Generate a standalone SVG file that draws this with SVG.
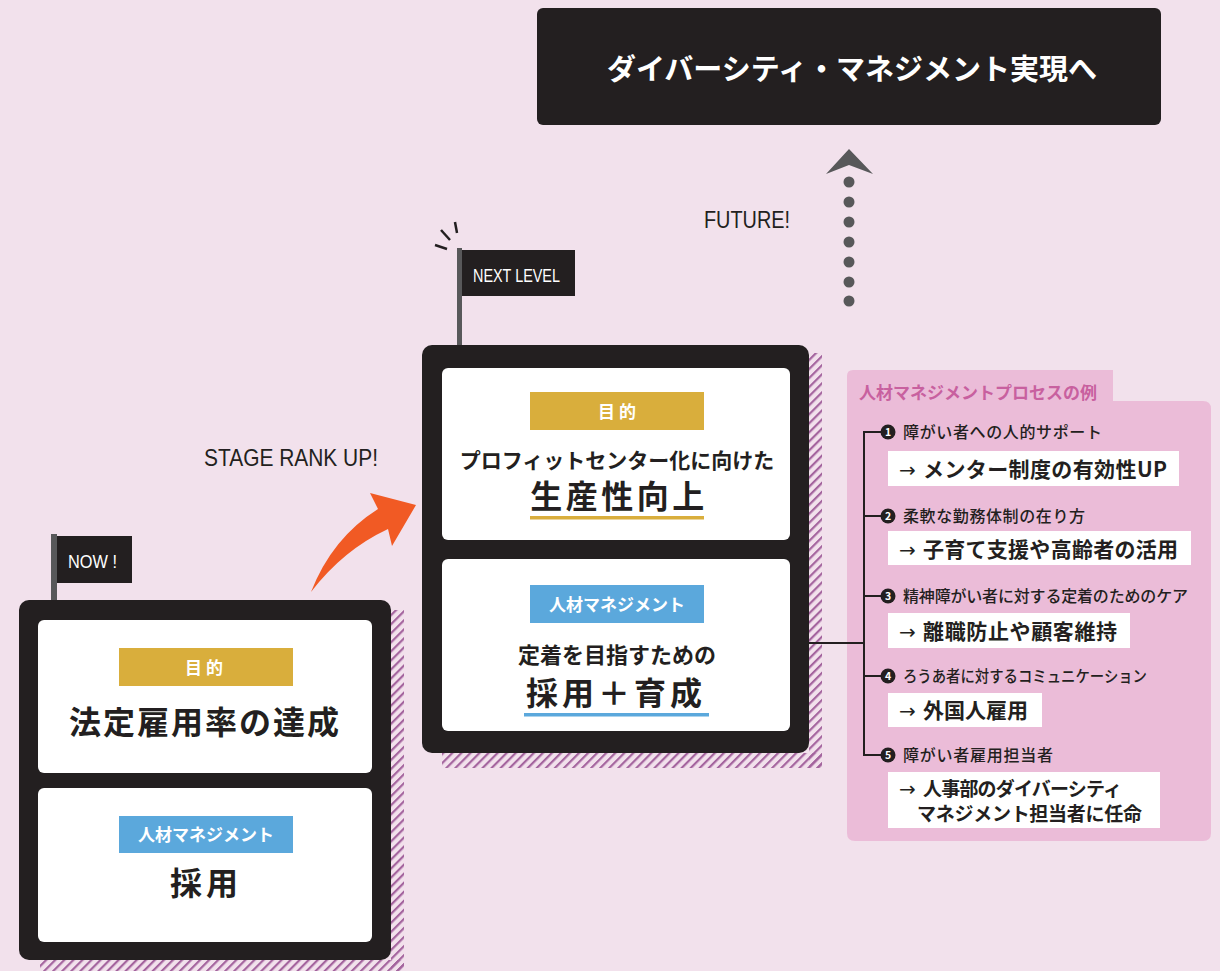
<svg xmlns="http://www.w3.org/2000/svg" width="1220" height="971" viewBox="0 0 1220 971">
<defs>
<pattern id="hatch" patternUnits="userSpaceOnUse" width="6.4" height="6.4" patternTransform="rotate(45)">
<rect x="0" y="0" width="2.2" height="6.4" fill="#A4649E"/>
</pattern>
<style>
.jp{font-family:"Noto Sans CJK JP","Noto Sans CJK SC",sans-serif;}
.lat{font-family:"Liberation Sans","DejaVu Sans",sans-serif;}
.b{font-weight:700;}
.m{font-weight:500;}
.dark{fill:#231F20;}
.w{fill:#FFFFFF;}
.frame{fill:#231F20;}
.card{fill:#FFFFFF;}
.gold{fill:#D9AE3C;}
.blue{fill:#5BA8DC;}
.pole{fill:#58585A;}
.conn{stroke:#231F20;stroke-width:2;fill:none;}
.item{fill:#231F20;font-size:16px;}
.res{fill:#231F20;font-size:21px;font-weight:700;}
.arr{fill:#231F20;font-size:20px;font-family:"DejaVu Sans","Liberation Sans",sans-serif;}
.num{fill:#FFFFFF;font-size:10.5px;font-weight:700;}
</style>
</defs>
<rect x="0" y="0" width="1220" height="971" fill="#F2E1EC"/>

<g id="goal">
<rect x="537" y="8" width="624" height="117" rx="6" class="frame"/>
<text x="852" y="80" text-anchor="middle" class="jp b w" font-size="29">ダイバーシティ・マネジメント実現へ</text>
</g>

<g id="future-arrow">
<polygon points="849,149 873,174 849,165 826,174" fill="#58585A"/>
<g fill="#58585A">
<circle cx="849" cy="182" r="5.5"/>
<circle cx="849" cy="202" r="5.5"/>
<circle cx="849" cy="222" r="5.5"/>
<circle cx="849" cy="242" r="5.5"/>
<circle cx="849" cy="262" r="5.5"/>
<circle cx="849" cy="282" r="5.5"/>
<circle cx="849" cy="301" r="5.5"/>
</g>
<text x="704" y="228" class="lat dark" font-size="24" textLength="86" lengthAdjust="spacingAndGlyphs">FUTURE!</text>
</g>

<g id="stage-arrow">
<path d="M311,592 Q332,538 378,509 L370,493 L416,505 L392,546 L388,529 Q343,550 311,592 Z" fill="#F15A24"/>
<text x="204" y="466" class="lat dark" font-size="24" textLength="174" lengthAdjust="spacingAndGlyphs">STAGE RANK UP!</text>
</g>

<g id="now-stage">
<rect x="391" y="610" width="13" height="361" fill="url(#hatch)"/>
<rect x="40" y="960" width="364" height="11" fill="url(#hatch)"/>
<rect x="51" y="534" width="6" height="70" class="pole"/>
<rect x="57" y="536" width="75" height="47" class="frame"/>
<text x="68" y="568" class="lat w" font-size="18" textLength="49" lengthAdjust="spacingAndGlyphs">NOW !</text>
<rect x="19" y="600" width="372" height="360" rx="10" class="frame"/>
<rect x="38" y="620" width="334" height="153" rx="6" class="card"/>
<rect x="119" y="648" width="174" height="38" class="gold"/>
<text x="206" y="674" text-anchor="middle" class="jp b w" font-size="17" letter-spacing="4">目的</text>
<text x="205" y="734" text-anchor="middle" class="jp b dark" font-size="32" letter-spacing="2">法定雇用率の達成</text>
<rect x="38" y="788" width="334" height="154" rx="6" class="card"/>
<rect x="119" y="816" width="174" height="37" class="blue"/>
<text x="206" y="841" text-anchor="middle" class="jp b w" font-size="17">人材マネジメント</text>
<text x="206" y="895" text-anchor="middle" class="jp b dark" font-size="32" letter-spacing="4">採用</text>
</g>

<g id="next-stage">
<rect x="809" y="353" width="13" height="415" fill="url(#hatch)"/>
<rect x="442" y="753" width="380" height="15" fill="url(#hatch)"/>
<g stroke="#231F20" stroke-width="2.5" stroke-linecap="butt">
<line x1="435" y1="245" x2="447" y2="249"/>
<line x1="441" y1="230" x2="450" y2="240"/>
<line x1="455" y1="222" x2="457" y2="233"/>
</g>
<rect x="457" y="248" width="5" height="102" class="pole"/>
<rect x="462" y="250" width="113" height="46" class="frame"/>
<text x="473" y="282" class="lat w" font-size="18" textLength="87" lengthAdjust="spacingAndGlyphs">NEXT LEVEL</text>
<rect x="422" y="345" width="387" height="408" rx="10" class="frame"/>
<rect x="442" y="368" width="348" height="172" rx="6" class="card"/>
<rect x="530" y="392" width="174" height="38" class="gold"/>
<text x="619" y="418" text-anchor="middle" class="jp b w" font-size="17" letter-spacing="4">目的</text>
<text x="617" y="468" text-anchor="middle" class="jp b dark" font-size="21">プロフィットセンター化に向けた</text>
<text x="619" y="508" text-anchor="middle" class="jp b dark" font-size="32" letter-spacing="3.5">生産性向上</text>
<rect x="530" y="516" width="174" height="3.5" class="gold"/>
<rect x="442" y="559" width="348" height="172" rx="6" class="card"/>
<rect x="530" y="585" width="174" height="38" class="blue"/>
<text x="617" y="611" text-anchor="middle" class="jp b w" font-size="17">人材マネジメント</text>
<text x="617" y="663" text-anchor="middle" class="jp b dark" font-size="22">定着を目指すための</text>
<text x="616" y="705" text-anchor="middle" class="jp b dark" font-size="32" letter-spacing="4">採用＋育成</text>
<rect x="524" y="713" width="185" height="3.5" class="blue"/>
</g>

<g id="process-panel">
<path d="M847,376 Q847,370 853,370 L1113,370 L1113,401 L1203,401 Q1211,401 1211,409 L1211,833 Q1211,841 1203,841 L855,841 Q847,841 847,833 Z" fill="#EBBCD8"/>
<text x="859" y="399" class="jp b" font-size="17" fill="#C8609F">人材マネジメントプロセスの例</text>
</g>

<g id="connectors">
<line x1="809" y1="643" x2="864" y2="643" class="conn"/>
<path d="M882,432 L864,432 L864,755 L882,755" class="conn"/>
<line x1="864" y1="516" x2="882" y2="516" class="conn"/>
<line x1="864" y1="596" x2="882" y2="596" class="conn"/>
<line x1="864" y1="676" x2="882" y2="676" class="conn"/>
</g>

<g id="item1">
<circle cx="888" cy="432" r="7.5" class="dark"/>
<text x="888" y="436" text-anchor="middle" class="jp num">1</text>
<text x="903" y="438" class="jp m item" textLength="199" lengthAdjust="spacing">障がい者への人的サポート</text>
<rect x="888" y="451" width="291" height="35" class="card"/>
<text x="899" y="477" class="arr">→</text>
<text x="923" y="477" class="jp res" textLength="244" lengthAdjust="spacing">メンター制度の有効性UP</text>
</g>

<g id="item2">
<circle cx="888" cy="516" r="7.5" class="dark"/>
<text x="888" y="520" text-anchor="middle" class="jp num">2</text>
<text x="903" y="522" class="jp m item" textLength="182" lengthAdjust="spacing">柔軟な勤務体制の在り方</text>
<rect x="888" y="531" width="303" height="34" class="card"/>
<text x="899" y="557" class="arr">→</text>
<text x="923" y="557" class="jp res" textLength="255" lengthAdjust="spacing">子育て支援や高齢者の活用</text>
</g>

<g id="item3">
<circle cx="888" cy="596" r="7.5" class="dark"/>
<text x="888" y="600" text-anchor="middle" class="jp num">3</text>
<text x="903" y="602" class="jp m item" textLength="285" lengthAdjust="spacing">精神障がい者に対する定着のためのケア</text>
<rect x="888" y="613" width="242" height="35" class="card"/>
<text x="899" y="639" class="arr">→</text>
<text x="923" y="639" class="jp res" textLength="194" lengthAdjust="spacing">離職防止や顧客維持</text>
</g>

<g id="item4">
<circle cx="888" cy="676" r="7.5" class="dark"/>
<text x="888" y="680" text-anchor="middle" class="jp num">4</text>
<text x="903" y="682" class="jp m item" textLength="244" lengthAdjust="spacingAndGlyphs">ろうあ者に対するコミュニケーション</text>
<rect x="888" y="693" width="154" height="34" class="card"/>
<text x="899" y="718" class="arr">→</text>
<text x="923" y="718" class="jp res" textLength="105" lengthAdjust="spacing">外国人雇用</text>
</g>

<g id="item5">
<circle cx="888" cy="755" r="7.5" class="dark"/>
<text x="888" y="759" text-anchor="middle" class="jp num">5</text>
<text x="903" y="761" class="jp m item" textLength="150" lengthAdjust="spacing">障がい者雇用担当者</text>
<rect x="888" y="772" width="272" height="56" class="card"/>
<text x="899" y="796" class="arr">→</text>
<text x="923" y="796" class="jp b dark" font-size="19" textLength="199" lengthAdjust="spacing">人事部のダイバーシティ</text>
<text x="917" y="821" class="jp b dark" font-size="19" textLength="225" lengthAdjust="spacing">マネジメント担当者に任命</text>
</g>
</svg>
